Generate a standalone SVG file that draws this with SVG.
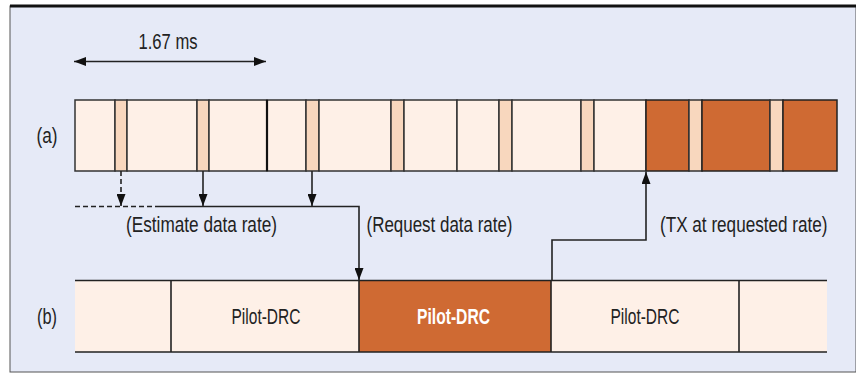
<svg xmlns="http://www.w3.org/2000/svg" width="856" height="373" viewBox="0 0 856 373">
<style>
  text { font-family: "Liberation Sans", Arial, sans-serif; font-size: 21.5px; fill: #222; }
  .lt { fill: #FEF0E7; stroke: #333; stroke-width: 1.5; }
  .st { fill: #F8D7BE; stroke: #333; stroke-width: 1.5; }
  .dk { fill: #CF6A33; stroke: #222; stroke-width: 1.5; }
  .ltf { fill: #FEF0E7; }
  .dkf { fill: #CF6A33; }
  .ln { stroke: #222; stroke-width: 1.6; fill: none; }
  .dash { stroke-dasharray: 5 3; }
  .w { fill: #fff; font-weight: bold; }
</style>
<defs>
  <marker id="ah" viewBox="0 0 12 9" refX="12" refY="4.5" markerWidth="12" markerHeight="9" markerUnits="userSpaceOnUse" orient="auto-start-reverse">
    <path d="M0,0 L12,4.5 L0,9 Z" fill="#111"/>
  </marker>
</defs>
<rect x="10" y="6" width="846" height="366" fill="#E6EAF7" stroke="#555" stroke-width="1"/>
<line x1="10" y1="6" x2="856" y2="6" stroke="#111" stroke-width="3"/>

<g id="scale">
  <path class="ln" d="M74,61.5 H266" stroke-width="2" marker-start="url(#ah)" marker-end="url(#ah)"/>
  <text x="168" y="49" text-anchor="middle" textLength="59" lengthAdjust="spacingAndGlyphs">1.67 ms</text>
</g>

<g id="row-a">
  <text x="36.5" y="142.5" textLength="21" lengthAdjust="spacingAndGlyphs">(a)</text>
  <rect class="lt" x="75" y="100" width="40" height="71"/>
  <rect class="st" x="115" y="100" width="12" height="71"/>
  <rect class="lt" x="127" y="100" width="70" height="71"/>
  <rect class="st" x="197" y="100" width="12" height="71"/>
  <rect class="lt" x="209" y="100" width="58" height="71"/>
  <rect class="lt" x="267" y="100" width="39" height="71"/>
  <rect class="st" x="306" y="100" width="13" height="71"/>
  <rect class="lt" x="319" y="100" width="72" height="71"/>
  <rect class="st" x="391" y="100" width="13" height="71"/>
  <rect class="lt" x="404" y="100" width="53" height="71"/>
  <rect class="lt" x="457" y="100" width="42" height="71"/>
  <rect class="st" x="499" y="100" width="13" height="71"/>
  <rect class="lt" x="512" y="100" width="69" height="71"/>
  <rect class="st" x="581" y="100" width="13" height="71"/>
  <rect class="lt" x="594" y="100" width="52" height="71"/>
  <rect class="dk" x="646" y="100" width="43" height="71"/>
  <rect class="st" x="689" y="100" width="13" height="71"/>
  <rect class="dk" x="702" y="100" width="68" height="71"/>
  <rect class="st" x="770" y="100" width="13" height="71"/>
  <rect class="dk" x="783" y="100" width="54" height="71"/>
  <line x1="267" y1="100" x2="267" y2="171" stroke="#111" stroke-width="2.2"/>
</g>

<g id="row-b">
  <text x="37" y="323.5" textLength="20" lengthAdjust="spacingAndGlyphs">(b)</text>
  <rect class="ltf" x="75" y="280" width="96" height="72"/>
  <rect class="ltf" x="171" y="280" width="188" height="72"/>
  <rect class="dkf" x="359" y="280" width="192" height="72"/>
  <rect class="ltf" x="551" y="280" width="188" height="72"/>
  <rect class="ltf" x="739" y="280" width="88" height="72"/>
  <path class="ln" d="M75,280.5 H827 M75,352 H827 M171,280 V352 M359,280 V352 M551,280 V352 M739,280 V352"/>
  <text x="266" y="324" text-anchor="middle" textLength="69" lengthAdjust="spacingAndGlyphs">Pilot-DRC</text>
  <text class="w" x="453.5" y="324" text-anchor="middle" textLength="73" lengthAdjust="spacingAndGlyphs">Pilot-DRC</text>
  <text x="645" y="324" text-anchor="middle" textLength="69" lengthAdjust="spacingAndGlyphs">Pilot-DRC</text>
</g>

<g id="connectors">
  <path class="ln dash" d="M121,171 V206" stroke-dasharray="4 3" marker-end="url(#ah)"/>
  <path class="ln" d="M203,171 V206" marker-end="url(#ah)"/>
  <path class="ln" d="M312,171 V206" marker-end="url(#ah)"/>
  <path class="ln dash" d="M75,206.5 H160"/>
  <path class="ln" d="M160,206.5 H359 V280" marker-end="url(#ah)"/>
  <path class="ln" d="M552,280 V240 H646 V172" marker-end="url(#ah)"/>
  <text x="126" y="232" textLength="151" lengthAdjust="spacingAndGlyphs">(Estimate data rate)</text>
  <text x="366.5" y="232" textLength="146" lengthAdjust="spacingAndGlyphs">(Request data rate)</text>
  <text x="0" y="0" transform="translate(660 232) scale(0.8 1)" textLength="209.4" lengthAdjust="spacingAndGlyphs">(TX at requested rate)</text>
</g>
</svg>
